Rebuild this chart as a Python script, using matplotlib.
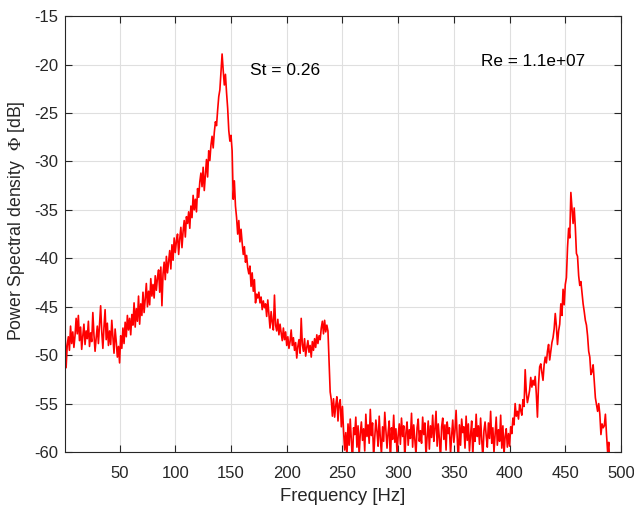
import numpy as np
import matplotlib
matplotlib.use("Agg")
import matplotlib.pyplot as plt

plt.rcParams['font.family'] = ['Liberation Sans', 'DejaVu Sans']
plt.rcParams['axes.unicode_minus'] = False
plt.rcParams['mathtext.fontset'] = 'stix'

# frequency axis, 1 Hz steps
freq = np.arange(1, 501)

# power spectral density [dB]
psd_1_100 = [
    -47.2, -51.3, -49.0, -48.1, -49.5, -47.0, -48.8, -47.6, -49.2, -48.0,
    -46.2, -47.8, -45.9, -48.5, -47.1, -49.4, -48.0, -46.8, -48.9, -47.5,
    -48.3, -46.5, -49.1, -47.7, -48.6, -45.6, -47.9, -49.6, -48.2, -47.0,
    -48.8, -46.9, -44.9, -47.6, -49.3, -47.1, -45.3, -48.4, -46.7, -49.0,
    -47.5, -48.9, -46.4, -48.1, -49.8, -47.3, -48.6, -50.2, -49.1, -50.8,
    -48.0, -49.3, -47.2, -48.8, -46.6, -48.1, -45.9, -47.4, -46.2, -47.9,
    -45.8, -46.9, -44.6, -47.1, -45.2, -46.5, -43.9, -46.8, -44.7, -45.9,
    -43.5, -45.6, -44.2, -42.6, -45.0, -43.4, -44.8, -42.1, -43.9, -42.7,
    -44.1, -41.8, -43.3, -42.0, -41.2, -43.5, -40.9, -44.9, -41.6, -40.4,
    -42.2, -39.8, -41.5, -40.3, -39.2, -41.1, -38.6, -40.2, -37.9, -39.4,
]
psd_101_200 = [
    -38.2, -37.5, -39.6, -38.0, -36.8, -38.9, -37.2, -36.1, -37.8, -35.7,
    -36.4, -35.2, -36.9, -34.6, -35.8, -33.5, -35.0, -33.9, -35.2, -32.8,
    -33.7, -32.1, -31.2, -32.6, -30.6, -33.0, -31.4, -29.8, -31.6, -28.9,
    -29.9, -28.3, -27.4, -28.6, -27.0, -25.9, -26.3, -24.7, -23.3, -22.6,
    -20.8, -18.9, -20.6, -22.1, -21.0, -22.9, -24.5, -26.8, -27.9, -27.3,
    -28.9, -33.9, -32.0, -34.6, -35.8, -37.5, -36.1, -38.3, -37.0, -38.4,
    -39.6, -38.8, -40.4, -39.7, -41.0, -41.6, -40.8, -42.9, -41.5, -43.4,
    -42.2, -44.6, -43.7, -44.1, -43.5, -44.6, -44.0, -45.3, -44.4, -45.1,
    -44.7, -46.0, -44.3, -45.8, -47.2, -45.5, -46.6, -47.4, -43.8, -46.9,
    -47.5, -46.3, -47.9, -46.8, -47.7, -48.5, -47.2, -48.4, -47.6, -49.0,
]
psd_201_300 = [
    -48.1, -49.3, -48.6, -47.4, -49.0, -48.2, -49.5, -48.7, -50.3, -49.1,
    -48.4, -49.8, -46.2, -48.9, -49.6, -48.3, -50.1, -49.2, -48.5, -49.7,
    -49.0, -50.2, -48.6, -49.5, -48.3, -49.2, -47.9, -48.8, -48.0, -48.4,
    -47.2, -46.5, -47.8, -46.4, -47.6, -46.9, -47.5, -50.6, -53.8, -54.6,
    -56.3, -54.5, -56.4, -55.2, -54.3, -56.8, -55.0, -54.6, -57.4, -55.3,
    -57.8, -59.8, -58.0, -60.5, -57.1, -59.3, -56.6, -58.7, -61.0, -57.5,
    -58.2, -56.4, -59.5, -57.3, -60.4, -58.1, -56.9, -58.8, -57.6, -59.9,
    -56.1, -58.4, -57.2, -59.1, -55.6, -58.3, -57.0, -60.6, -58.5, -56.7,
    -57.9, -59.4, -56.3, -58.6, -60.2, -57.4, -58.9, -55.9, -57.8, -59.6,
    -58.0, -56.8, -61.2, -57.5, -58.7, -56.2, -59.0, -57.6, -60.1, -58.3,
]
psd_301_400 = [
    -57.1, -59.2, -56.5, -58.4, -57.3, -60.7, -58.0, -56.9, -59.3, -57.7,
    -58.6, -56.0, -59.5, -57.2, -58.8, -60.3, -57.5, -56.6, -58.9, -57.8,
    -59.1, -56.4, -58.2, -57.0, -60.5, -58.4, -56.8, -59.7, -57.3, -58.5,
    -56.2, -58.9, -57.6, -55.8, -59.4, -57.1, -58.6, -60.8, -57.4, -56.5,
    -58.7, -57.2, -59.8, -56.9, -58.1, -57.5, -60.2, -58.3, -56.7, -59.0,
    -57.8, -55.7, -58.5, -61.0, -57.2, -59.3, -56.6, -58.0, -57.4, -59.6,
    -56.3, -58.8, -57.1, -59.9, -58.2, -56.8, -60.4, -57.6, -58.9, -56.1,
    -58.4, -57.3, -59.2, -56.5, -58.7, -60.6, -57.8, -56.9, -58.3, -59.5,
    -57.0, -58.6, -55.8, -59.1, -57.5, -60.0, -58.2, -56.4, -59.3, -57.7,
    -58.9, -56.2, -59.6, -57.3, -60.3, -58.4, -57.6, -59.5, -58.1, -59.4,
]
psd_401_500 = [
    -57.4, -58.1, -56.5, -57.2, -55.0, -56.3, -55.8, -56.6, -55.1, -55.7,
    -56.2, -54.6, -55.3, -51.5, -53.8, -54.9, -54.3, -53.6, -52.3, -53.3,
    -52.6, -53.1, -52.2, -54.0, -56.4, -53.0, -51.2, -50.9, -51.8, -52.6,
    -51.0, -50.2, -50.8, -49.6, -48.9, -50.5, -49.6, -48.7, -48.2, -47.3,
    -45.7, -47.0, -48.9, -47.5, -46.8, -44.7, -45.9, -43.2, -44.8, -42.7,
    -42.0, -38.9, -36.9, -37.9, -33.2, -34.8, -36.4, -34.8, -36.8, -39.5,
    -39.8, -41.8, -42.8, -42.4, -43.6, -44.7, -45.5, -46.4, -46.9, -48.0,
    -49.6, -50.2, -52.0, -51.7, -51.0, -52.7, -54.4, -55.1, -55.8, -55.0,
    -56.1, -58.2, -57.1, -57.5, -57.3, -56.1, -58.2, -60.0, -59.0, -61.5,
    -62.4, -63.1, -62.6, -64.0, -63.2, -64.5, -65.1, -64.3, -65.6, -66.0,
]
psd = psd_1_100 + psd_101_200 + psd_201_300 + psd_301_400 + psd_401_500

xticks = [50, 100, 150, 200, 250, 300, 350, 400, 450, 500]
yticks = [-60, -55, -50, -45, -40, -35, -30, -25, -20, -15]

fig = plt.figure(figsize=(6.34, 5.07), dpi=100)
ax = fig.add_axes([0.1025, 0.1085, 0.877, 0.8595])

ax.plot(freq, psd, color='red', linewidth=1.2)

ax.set_xlim(1, 500)
ax.set_ylim(-60, -15)
ax.set_xticks(xticks)
ax.set_yticks(yticks)
ax.grid(True, color='#dfdfdf', linewidth=0.8)
ax.set_axisbelow(True)

dark = '#262626'
ax.tick_params(direction='in', top=True, right=True, length=5, width=0.8,
               colors=dark, labelsize=12)
ax.tick_params(axis='x', pad=10)
ax.tick_params(axis='y', pad=5)
for s in ax.spines.values():
    s.set_color(dark)
    s.set_linewidth(0.8)

ax.set_xlabel('Frequency [Hz]', fontsize=13.3, color=dark, labelpad=5)
ax.set_ylabel(r'Power Spectral density  $\Phi$ [dB]', fontsize=12.7,
              color=dark)
ax.yaxis.set_label_coords(-0.068, 0.53)

ax.text(167, -20.6, 'St = 0.26', fontsize=12.5, va='center', ha='left')
ax.text(374, -19.7, 'Re = 1.1e+07', fontsize=12.3, va='center', ha='left')

fig.savefig('out.png', dpi=100)
